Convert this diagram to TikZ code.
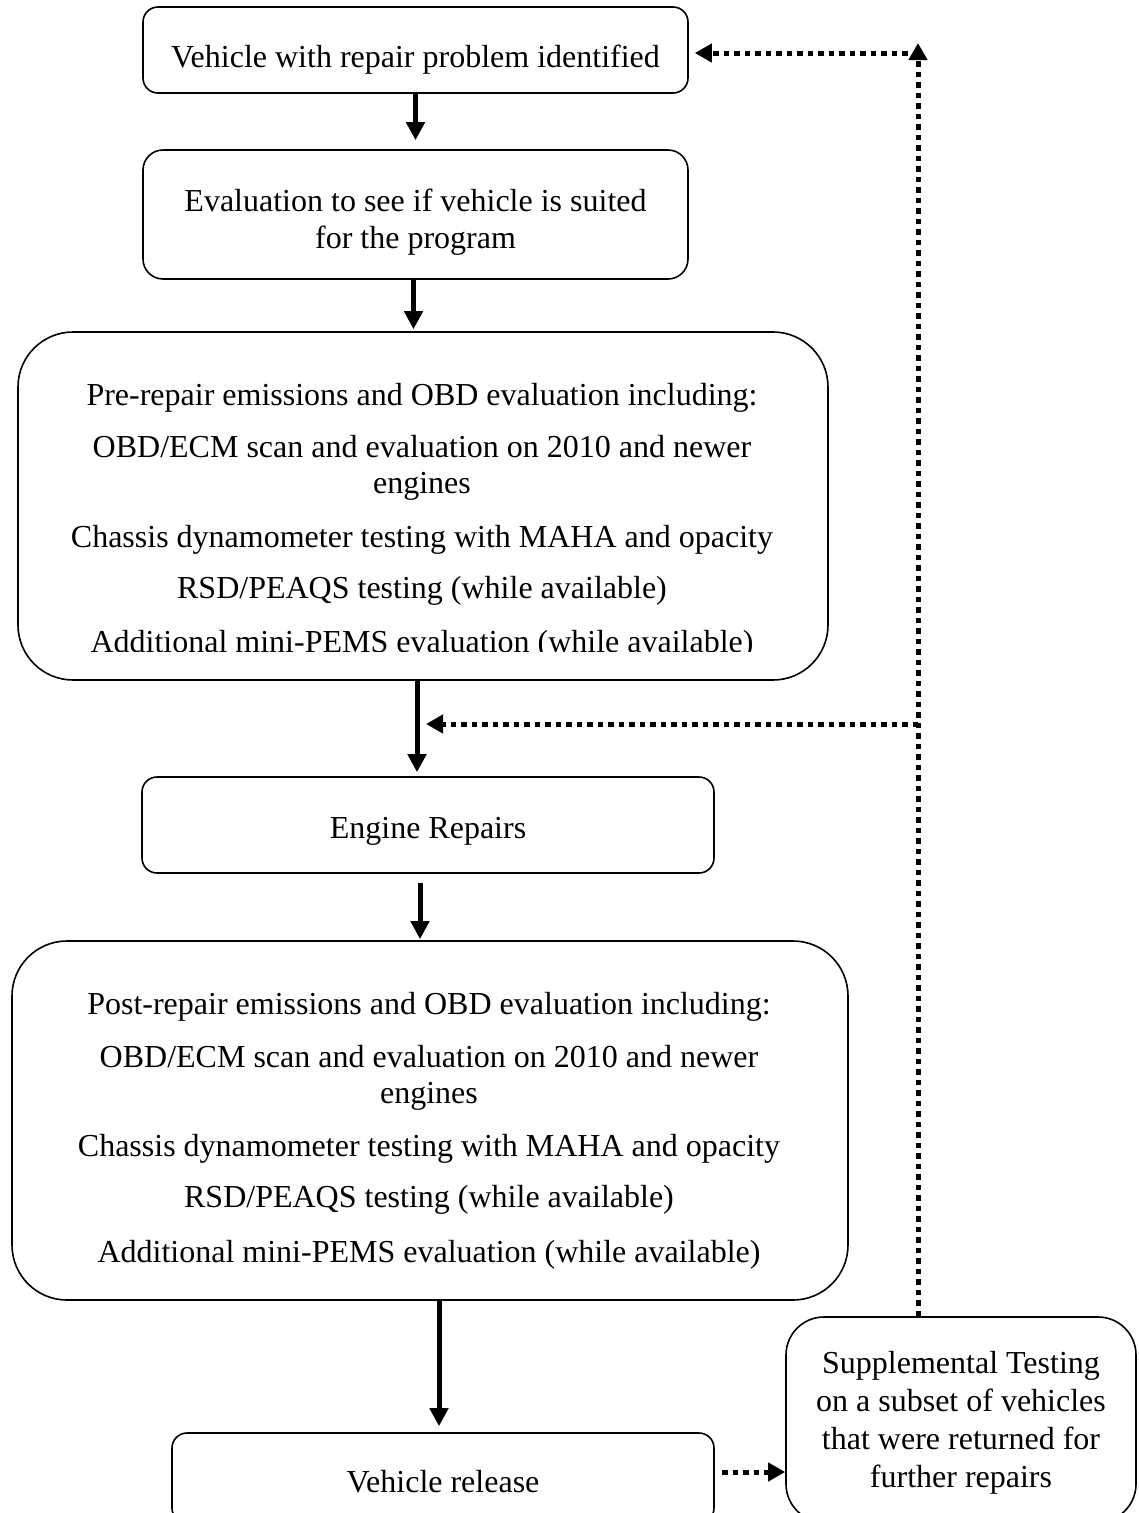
\documentclass[tikz,border=0pt]{standalone}
\usepackage{fontspec}
\setmainfont{Liberation Serif}
\usetikzlibrary{arrows.meta}
\begin{document}
\begin{tikzpicture}[x=1pt,y=-1pt,
  box/.style={draw, line width=1.6pt, inner sep=0pt},
  txt/.style={anchor=base, inner sep=0pt, font=\fontsize{32}{36}\selectfont},
  flow/.style={line width=5pt, -{Triangle[width=18pt,length=18pt]}},
  dotflow/.style={line width=5pt, line cap=butt, dash pattern=on 5.5pt off 5pt, -{Triangle[width=18pt,length=17pt]}}
]
\useasboundingbox (0,0) rectangle (1139,1513);
\clip (0,0) rectangle (1139,1513);

% boxes
\node[box, rounded corners=15pt, minimum width=545pt, minimum height=86pt] (b1) at (415.5,50) {};
\node[box, rounded corners=20pt, minimum width=545pt, minimum height=129pt] (b2) at (415.5,214.5) {};
\node[box, rounded corners=55pt, minimum width=810pt, minimum height=348pt] (b3) at (423,506) {};
\node[box, rounded corners=15pt, minimum width=572pt, minimum height=96pt] (b4) at (428,825) {};
\node[box, rounded corners=55pt, minimum width=836pt, minimum height=359pt] (b5) at (430,1120.5) {};
\node[box, rounded corners=15pt, minimum width=542pt, minimum height=90pt] (b6) at (443,1478) {};
\node[box, rounded corners=38pt, minimum width=350pt, minimum height=205pt] (b7) at (961,1419.5) {};

% texts
\node[txt] (t1) at (415.5,67) {Vehicle with repair problem identified};
\node[txt] (t2a) at (415.5,211) {Evaluation to see if vehicle is suited};
\node[txt] (t2b) at (415.5,248) {for the program};

\node[txt] (t3a) at (422,405) {Pre-repair emissions and OBD evaluation including:};
\node[txt] (t3b) at (422,457) {OBD/ECM scan and evaluation on 2010 and newer};
\node[txt] (t3c) at (422,493) {engines};
\node[txt] (t3d) at (422,547) {Chassis dynamometer testing with MAHA and opacity};
\node[txt] (t3e) at (422,598) {RSD/PEAQS testing (while available)};
\begin{scope}
  \clip (0,0) rectangle (1139,651);
  \node[txt] (t3f) at (422,652) {Additional mini-PEMS evaluation (while available)};
\end{scope}

\node[txt] (t4) at (428,838) {Engine Repairs};

\node[txt] (t5a) at (429,1014) {Post-repair emissions and OBD evaluation including:};
\node[txt] (t5b) at (429,1067) {OBD/ECM scan and evaluation on 2010 and newer};
\node[txt] (t5c) at (429,1103) {engines};
\node[txt] (t5d) at (429,1156) {Chassis dynamometer testing with MAHA and opacity};
\node[txt] (t5e) at (429,1207) {RSD/PEAQS testing (while available)};
\node[txt] (t5f) at (429,1262) {Additional mini-PEMS evaluation (while available)};

\node[txt] (t6) at (443,1492) {Vehicle release};

\node[txt] (t7a) at (961,1373) {Supplemental Testing};
\node[txt] (t7b) at (961,1411) {on a subset of vehicles};
\node[txt] (t7c) at (961,1449) {that were returned for};
\node[txt] (t7d) at (961,1487) {further repairs};

% solid connectors
\draw[flow, shorten >=9pt] (b1.south) -- (b2.north);
\draw[flow, shorten >=2pt] ([xshift=-2pt]b2.south) -- ([xshift=-2pt]b2.south |- b3.north);
\draw[flow, shorten >=4pt] ([xshift=-6pt]b3.south) -- ([xshift=-6pt]b3.south |- b4.north);
\draw[flow, shorten <=9pt, shorten >=1pt] ([xshift=-8pt]b4.south) -- ([xshift=-8pt]b4.south |- b5.north);
\draw[flow, shorten >=6pt] ([xshift=9pt]b5.south) -- ([xshift=9pt]b5.south |- b6.north);

% dotted connectors
\coordinate (ctop) at (918,43);
\coordinate (chor) at (918,53);
\coordinate (cmid) at (918,724);
\coordinate (cmidend) at (426,724);
\coordinate (cbot) at (722,1472);
\draw[dotflow] (ctop |- b7.north) -- (ctop);
\draw[dotflow, shorten >=6pt] (chor) -- (b1.east |- chor);
\draw[dotflow] (cmid) -- (cmidend);
\draw[dotflow] (cbot) -- (b7.west |- cbot);
\end{tikzpicture}
\end{document}
